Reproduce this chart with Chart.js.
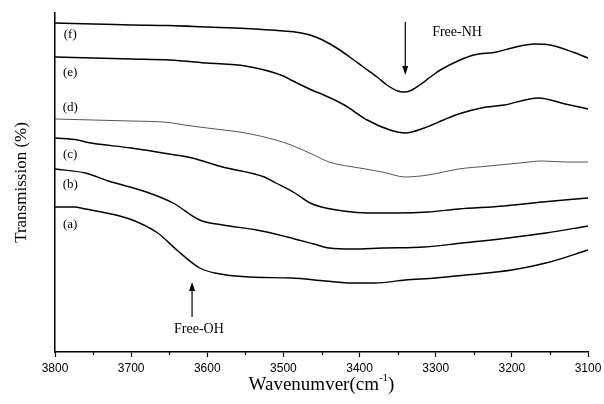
<!DOCTYPE html>
<html>
<head>
<meta charset="utf-8">
<script src="https://cdn.jsdelivr.net/npm/chart.js@4.4.1/dist/chart.umd.min.js"></script>
<style>
  html, body { margin: 0; padding: 0; background: #fff; }
  #wrap { width: 604px; height: 404px; position: relative; }
</style>
</head>
<body>
<div id="wrap"><canvas id="irChart"></canvas></div>
<script>
// wavenumbers (cm-1) and transmission readings (arbitrary offset units) per curve
const wnF = [3800, 3750, 3700, 3650, 3600, 3550, 3500, 3480, 3465, 3450, 3430, 3413, 3395, 3377, 3364, 3350, 3342, 3334, 3321, 3307, 3294, 3268, 3250, 3220, 3200, 3170, 3150, 3120, 3100];
const tF  = [329, 328, 327, 326.5, 325, 323.5, 321, 319.5, 317, 312.5, 304, 295, 285, 275, 267, 261, 260, 261, 267, 275, 282, 292, 297, 300, 304, 308, 307, 300, 294];

const wnE = [3800, 3750, 3700, 3650, 3600, 3550, 3500, 3490, 3460, 3450, 3420, 3390, 3360, 3340, 3315, 3290, 3270, 3240, 3210, 3165, 3130, 3100];
const tE  = [295, 294, 293, 292, 289, 286, 276, 272, 261, 258, 247, 232, 222, 219, 224, 232, 238, 244, 247, 254, 248, 243];

const wnD = [3800, 3750, 3700, 3650, 3630, 3600, 3550, 3510, 3490, 3460, 3440, 3400, 3370, 3340, 3310, 3270, 3230, 3190, 3160, 3130, 3100];
const tD  = [233, 232, 231, 229.5, 227, 224, 219, 212, 207, 197, 190, 184, 180, 175, 177, 183, 186, 189, 191, 190, 190];

const wnC = [3800, 3770, 3760, 3700, 3650, 3620, 3580, 3525, 3510, 3485, 3465, 3450, 3410, 3380, 3350, 3310, 3270, 3210, 3160, 3100];
const tC  = [214, 212, 210, 204, 198, 194, 185, 175, 169, 159, 149, 145, 140, 139, 139, 140, 143, 146, 150, 154];

const wnB = [3800, 3760, 3730, 3680, 3645, 3610, 3580, 3535, 3495, 3460, 3440, 3410, 3370, 3315, 3265, 3205, 3155, 3100];
const tB  = [183, 179, 171, 160, 149, 132, 127, 122, 115, 108, 104, 103, 104, 105, 109, 114, 119, 126];

const wnA = [3800, 3775, 3760, 3715, 3695, 3665, 3640, 3610, 3590, 3545, 3490, 3445, 3410, 3380, 3340, 3300, 3260, 3200, 3150, 3100];
const tA  = [145, 145, 143, 136, 131, 119, 102, 84, 79, 75, 74, 71, 69, 69, 72, 74, 77, 82, 90, 102];

const curveLabels = ['(a)', '(b)', '(c)', '(d)', '(e)', '(f)'];
const labelLevels = [127, 167, 197, 244, 279, 317];
const xTicks = [3800, 3700, 3600, 3500, 3400, 3300, 3200, 3100];

function pts(wn, t) {
  return wn.map((w, i) => ({ x: w, y: t[i] }));
}

const serif = '"Liberation Serif", "DejaVu Serif", serif';

// labels, arrows, minor ticks and axis titles
const extras = {
  id: 'extras',
  afterDraw(chart) {
    const ctx = chart.ctx;
    const xs = chart.scales.x;
    const ys = chart.scales.y;
    const area = chart.chartArea;
    ctx.save();
    ctx.fillStyle = '#000';
    ctx.strokeStyle = '#000';

    // minor ticks
    ctx.lineWidth = 1.2;
    for (let w = 3750; w > 3100; w -= 100) {
      const px = Math.round(xs.getPixelForValue(w)) + 0.5;
      ctx.beginPath();
      ctx.moveTo(px, area.bottom);
      ctx.lineTo(px, area.bottom + 3);
      ctx.stroke();
    }

    // curve labels
    ctx.font = '13px ' + serif;
    ctx.textAlign = 'center';
    ctx.textBaseline = 'middle';
    curveLabels.forEach((lab, i) => {
      ctx.fillText(lab, xs.getPixelForValue(3780), ys.getPixelForValue(labelLevels[i]));
    });

    // arrows
    function arrow(w, fromV, toV) {
      const x = xs.getPixelForValue(w);
      const y1 = ys.getPixelForValue(fromV);
      const y2 = ys.getPixelForValue(toV);
      const dir = y2 > y1 ? 1 : -1;
      ctx.lineWidth = 1.2;
      ctx.beginPath();
      ctx.moveTo(x, y1);
      ctx.lineTo(x, y2 - dir * 6);
      ctx.stroke();
      ctx.beginPath();
      ctx.moveTo(x, y2);
      ctx.lineTo(x - 3, y2 - dir * 9);
      ctx.lineTo(x + 3, y2 - dir * 9);
      ctx.closePath();
      ctx.fill();
    }
    arrow(3340, 330, 277);
    arrow(3620, 35, 70);

    ctx.font = '14px ' + serif;
    ctx.fillText('Free-NH', xs.getPixelForValue(3272), ys.getPixelForValue(320));
    ctx.fillText('Free-OH', xs.getPixelForValue(3611), ys.getPixelForValue(23));

    // y title
    ctx.save();
    ctx.translate(22, (area.top + area.bottom) / 2);
    ctx.rotate(-Math.PI / 2);
    ctx.font = '17px ' + serif;
    ctx.fillText('Transmission (%)', 0, 0);
    ctx.restore();

    // x title with superscript
    ctx.font = '19px ' + serif;
    const part1 = 'Wavenumver(cm';
    const sup = '-1';
    const part3 = ')';
    ctx.textAlign = 'left';
    ctx.textBaseline = 'alphabetic';
    const w1 = ctx.measureText(part1).width;
    const w3 = ctx.measureText(part3).width;
    ctx.font = '11px ' + serif;
    const w2 = ctx.measureText(sup).width;
    const total = w1 + w2 + w3;
    const cx = (area.left + area.right) / 2;
    let x0 = cx - total / 2;
    const base = 390;
    ctx.font = '19px ' + serif;
    ctx.fillText(part1, x0, base);
    ctx.font = '11px ' + serif;
    ctx.fillText(sup, x0 + w1, base - 9);
    ctx.font = '19px ' + serif;
    ctx.fillText(part3, x0 + w1 + w2, base);
    ctx.restore();
  }
};

const lineStyle = (width, color) => ({
  borderColor: color,
  borderWidth: width,
  pointRadius: 0,
  fill: false,
  cubicInterpolationMode: 'monotone'
});

const irChart = new Chart(document.getElementById('irChart'), {
  type: 'line',
  data: {
    datasets: [
      { label: '(a)', data: pts(wnA, tA), ...lineStyle(1.4, '#000') },
      { label: '(b)', data: pts(wnB, tB), ...lineStyle(1.4, '#000') },
      { label: '(c)', data: pts(wnC, tC), ...lineStyle(1.4, '#000') },
      { label: '(d)', data: pts(wnD, tD), ...lineStyle(1, '#555') },
      { label: '(e)', data: pts(wnE, tE), ...lineStyle(1.5, '#000') },
      { label: '(f)', data: pts(wnF, tF), ...lineStyle(1.5, '#000') }
    ]
  },
  options: {
    responsive: true,
    maintainAspectRatio: false,
    animation: false,
    layout: { padding: { left: 55, right: 16, top: 13, bottom: 0 } },
    plugins: {
      legend: { display: false },
      tooltip: { enabled: false }
    },
    scales: {
      x: {
        type: 'linear',
        reverse: true,
        min: 3100,
        max: 3800,
        afterFit: (scale) => {
          scale.height = 52;
          scale.paddingLeft = 0;
          scale.paddingRight = 0;
        },
        afterBuildTicks: (scale) => { scale.ticks = xTicks.map(v => ({ value: v })); },
        grid: { drawOnChartArea: false, tickLength: 5, tickWidth: 1.2, tickColor: '#000' },
        border: { display: true, color: '#000', width: 1.5 },
        ticks: {
          color: '#000',
          padding: 4,
          callback: (v) => String(v),
          font: { family: '"Liberation Sans", Arial, sans-serif', size: 12 }
        }
      },
      y: {
        min: 0,
        max: 339,
        afterFit: (scale) => { scale.width = 0; },
        grid: { display: false },
        border: { display: true, color: '#000', width: 1.5 },
        ticks: { display: false }
      }
    }
  },
  plugins: [extras]
});
</script>
</body>
</html>
